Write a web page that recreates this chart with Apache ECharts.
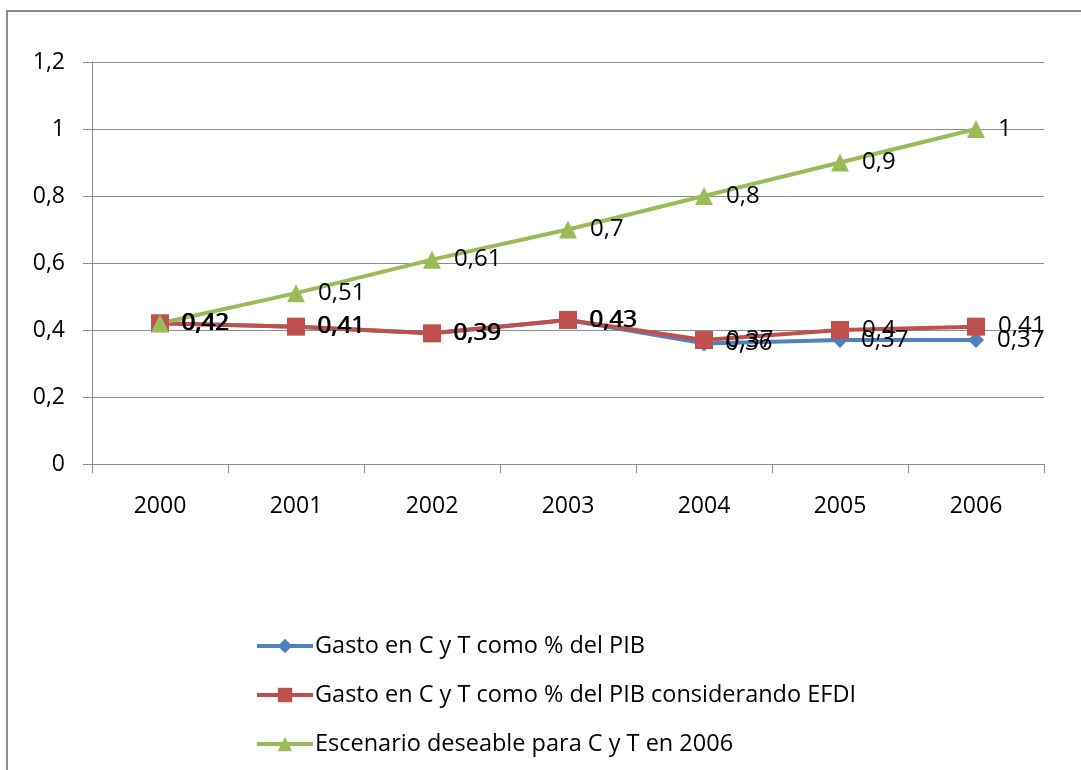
<!DOCTYPE html>
<html><head><meta charset="utf-8">
<script src="https://cdn.jsdelivr.net/npm/echarts@6/dist/echarts.min.js"></script>
<style>html,body{margin:0;padding:0;background:#fff}#c{width:1081px;height:770px}</style>
</head><body><div id="c"></div>
<script>
const years = ['2000','2001','2002','2003','2004','2005','2006'];
const gastoPIB = [0.42, 0.41, 0.39, 0.43, 0.36, 0.37, 0.37];
const gastoEFDI = [0.42, 0.41, 0.39, 0.43, 0.37, 0.4, 0.41];
const escenario = [0.42, 0.51, 0.61, 0.7, 0.8, 0.9, 1];
const seriesNames = ['Gasto en C y T como % del PIB','Gasto en C y T como % del PIB considerando EFDI','Escenario deseable para C y T en 2006'];

const FONT = 'Open Sans';
const fmt = v => String(v).replace('.', ',');
const lbl = {show:true, position:'right', distance:13, fontFamily:FONT, fontSize:24, color:'#000', formatter:p=>fmt(p.value)};
const chart = echarts.init(document.getElementById('c'));
chart.setOption({
  animation:false,
  graphic:[{type:'rect', shape:{x:7,y:11,width:1200,height:900}, style:{fill:null, stroke:'#8c8c8c', lineWidth:2}, silent:true}],
  grid:{left:92, right:37, top:62, bottom:306},
  xAxis:{type:'category', data:years, boundaryGap:true,
    axisLine:{lineStyle:{color:'#8c8c8c', width:1}},
    axisTick:{show:true, length:9, lineStyle:{color:'#8c8c8c'}},
    axisLabel:{fontFamily:FONT, fontSize:23, color:'#000', margin:31}},
  yAxis:{type:'value', min:0, max:1.2, interval:0.2,
    axisLine:{show:true, lineStyle:{color:'#8c8c8c'}},
    axisTick:{show:true, length:9, lineStyle:{color:'#8c8c8c'}},
    splitLine:{lineStyle:{color:'#8c8c8c', width:1}},
    axisLabel:{fontFamily:FONT, fontSize:23, color:'#000', margin:27, formatter:v=>fmt(Math.round(v*10)/10)}},
  legend:{orient:'vertical', left:255, top:634, padding:0, itemGap:25, itemWidth:56, itemHeight:18,
    lineStyle:{width:4},
    textStyle:{fontFamily:FONT, fontSize:23.5, color:'#000', padding:[0,0,0,-3]},
    data:seriesNames},
  series:[
    {name:seriesNames[0], type:'line', data:gastoPIB, color:'#4f81bd', symbol:'diamond', symbolSize:16,
      lineStyle:{width:4}, label:lbl},
    {name:seriesNames[1], type:'line', data:gastoEFDI, color:'#c0504d', symbol:'rect', symbolSize:18,
      lineStyle:{width:4}, label:lbl},
    {name:seriesNames[2], type:'line', data:escenario, color:'#9bbb59', symbol:'triangle', symbolSize:18,
      lineStyle:{width:4}, label:lbl}
  ]
});
</script></body></html>
